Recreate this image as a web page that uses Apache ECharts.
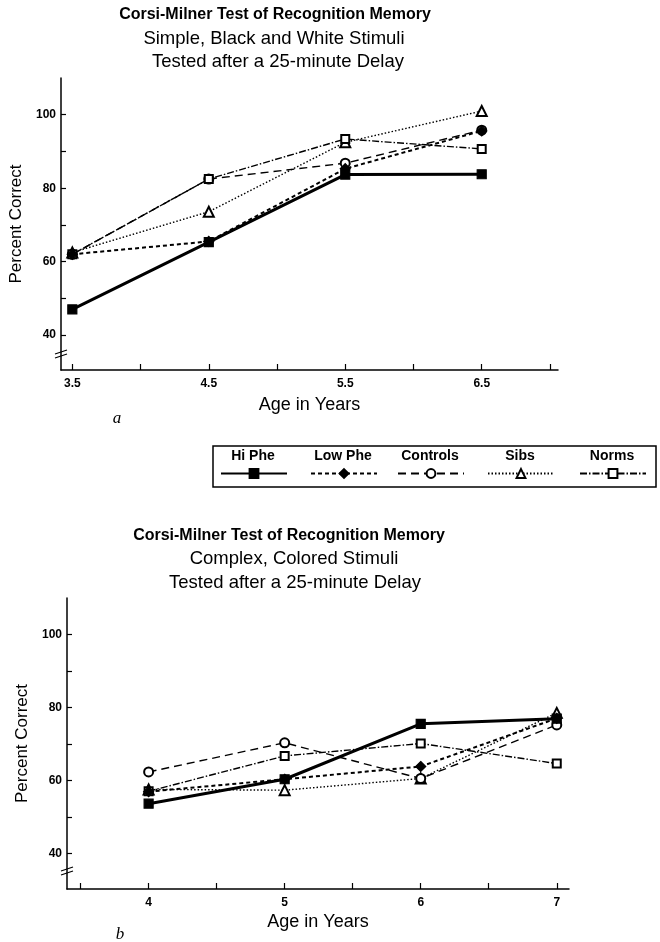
<!DOCTYPE html>
<html><head><meta charset="utf-8">
<script src="https://cdn.jsdelivr.net/npm/echarts@6/dist/echarts.min.js"></script>
<style>html,body{margin:0;padding:0;background:#fff}#c{width:660px;height:942px}</style>
</head><body><div id="c"></div>
<script>
// ---- data ----
const seriesNames = ['Hi Phe', 'Low Phe', 'Controls', 'Sibs', 'Norms'];

const agesA = [3.5, 4.5, 5.5, 6.5];
const hiPheA = [47, 65.3, 83.7, 83.8];
const lowPheA = [62, 65.5, 85.3, 95.6];
const controlsA = [62, 82.5, 86.8, 95.8];
const sibsA = [62.5, 73.6, 92.5, 101];
const normsA = [62, 82.5, 93.4, 90.7];

const agesB = [4, 5, 6, 7];
const hiPheB = [53.6, 60.3, 75.5, 76.9];
const lowPheB = [56.9, 60.3, 63.8, 77];
const controlsB = [62.3, 70.3, 60.5, 75.2];
const sibsB = [57.5, 57.3, 60.5, 78.5];
const normsB = [57, 66.7, 70.1, 64.6];

const xTicksA = [3.5, 4, 4.5, 5, 5.5, 6, 6.5, 7];
const xLabelsA = [3.5, 4.5, 5.5, 6.5];
const xTicksB = [3.5, 4, 4.5, 5, 5.5, 6, 6.5, 7];
const xLabelsB = [4, 5, 6, 7];
const yTicks = [40, 50, 60, 70, 80, 90, 100];
const yLabels = [40, 60, 80, 100];

const titleMain = 'Corsi-Milner Test of Recognition Memory';
const subA = ['Simple, Black and White Stimuli', 'Tested after a 25-minute Delay'];
const subB = ['Complex, Colored Stimuli', 'Tested after a 25-minute Delay'];

// ---- styling ----
const FONT = '"Liberation Sans", Arial, Helvetica, sans-serif';
const styles = [
  { symbol: 'rect', symbolSize: 9, z: 10, lineStyle: { width: 3, type: 'solid' } },
  { symbol: 'diamond', symbolSize: 10, z: 8, lineStyle: { width: 2, type: [4, 3] } },
  { symbol: 'emptyCircle', symbolSize: 9, z: 6, lineStyle: { width: 1.4, type: [8, 5] } },
  { symbol: 'emptyTriangle', symbolSize: 10, z: 5, lineStyle: { width: 1.4, type: [1.5, 2] } },
  { symbol: 'emptyRect', symbolSize: 8, z: 7, lineStyle: { width: 1.4, type: [7, 2, 1.5, 2] } }
];

const dataA = [hiPheA, lowPheA, controlsA, sibsA, normsA];
const dataB = [hiPheB, lowPheB, controlsB, sibsB, normsB];

function mkSeries(vals, ages, idx) {
  return vals.map((arr, i) => ({
    type: 'line',
    name: seriesNames[i],
    xAxisIndex: idx, yAxisIndex: idx,
    data: arr.map((v, j) => [ages[j], v]),
    symbol: styles[i].symbol,
    symbolSize: styles[i].symbolSize,
    z: styles[i].z,
    lineStyle: Object.assign({ color: '#000' }, styles[i].lineStyle),
    itemStyle: { color: '#000', borderColor: '#000', borderWidth: 1.2 },
    emphasis: { disabled: true },
    animation: false
  }));
}

function xAxis(idx, min, max, ticks, labels, gap) {
  return {
    type: 'value', gridIndex: idx, min: min, max: max,
    name: 'Age in Years', nameLocation: 'middle', nameGap: gap,
    nameTextStyle: { fontFamily: FONT, fontSize: 18, color: '#000' },
    axisLine: { lineStyle: { color: '#000', width: 1.5 } },
    axisTick: { inside: true, length: 6, customValues: ticks, lineStyle: { color: '#000', width: 1.2 } },
    axisLabel: { customValues: labels, margin: 8, fontFamily: FONT, fontSize: 12, fontWeight: 'bold', color: '#000' },
    splitLine: { show: false }
  };
}
function yAxis(idx, min, max) {
  return {
    type: 'value', gridIndex: idx, min: min, max: max,
    name: 'Percent Correct', nameLocation: 'middle', nameGap: 36,
    nameTextStyle: { fontFamily: FONT, fontSize: 17, color: '#000' },
    axisLine: { onZero: false, lineStyle: { color: '#000', width: 1.5 } },
    axisTick: { inside: true, length: 5, customValues: yTicks, lineStyle: { color: '#000', width: 1.2 } },
    axisLabel: { customValues: yLabels, margin: 5, fontFamily: FONT, fontSize: 12, fontWeight: 'bold', color: '#000' },
    splitLine: { show: false }
  };
}

const legCx = [253, 343, 430, 520, 612];
const legends = seriesNames.map((n, i) => ({
  data: [n], left: legCx[i] - 33, top: 468, itemWidth: 66, itemHeight: 11,
  padding: 0, formatter: () => '', selectedMode: false,
  textStyle: { fontSize: 1 }
}));

function breakMark(x, y) {
  return [
    { type: 'line', shape: { x1: x - 6, y1: y + 1, x2: x + 6, y2: y - 3 }, style: { stroke: '#000', lineWidth: 1.3 } },
    { type: 'line', shape: { x1: x - 6, y1: y + 5, x2: x + 6, y2: y + 1 }, style: { stroke: '#000', lineWidth: 1.3 } }
  ];
}

const graphics = [
  { type: 'rect', shape: { x: 213, y: 446, width: 443, height: 41 }, style: { fill: 'none', stroke: '#000', lineWidth: 1.5 } },
  ...seriesNames.map((n, i) => ({ type: 'text', x: legCx[i], y: 456, style: { text: n, x: 0, y: 0, align: 'center', verticalAlign: 'middle', font: 'bold 14px ' + FONT, fill: '#000' } })),
  { type: 'text', x: 117, y: 419, style: { text: 'a', align: 'center', verticalAlign: 'middle', font: 'italic 17px "Liberation Serif", "Times New Roman", serif', fill: '#000' } },
  { type: 'text', x: 120, y: 935, style: { text: 'b', align: 'center', verticalAlign: 'middle', font: 'italic 17px "Liberation Serif", "Times New Roman", serif', fill: '#000' } },
  ...breakMark(61, 353),
  ...breakMark(67, 870)
];

function t(text, cx, top, bold) {
  return { text: text, left: cx, top: top, textAlign: 'center', padding: 0,
    textStyle: { fontFamily: FONT, fontSize: bold ? 16 : 18.5, fontWeight: bold ? 'bold' : 'normal', color: '#000' } };
}

const option = {
  backgroundColor: '#fff',
  animation: false,
  title: [
    t(titleMain, 275, 7, true),
    t(subA[0], 274, 29, false),
    t(subA[1], 278, 52, false),
    t(titleMain, 289, 528, true),
    t(subB[0], 294, 549, false),
    t(subB[1], 295, 573, false)
  ],
  legend: legends,
  grid: [
    { left: 61, top: 78, width: 497, height: 292 },
    { left: 67, top: 598, width: 502, height: 291 }
  ],
  xAxis: [xAxis(0, 3.417, 7.059, xTicksA, xLabelsA, 26), xAxis(1, 3.40, 7.09, xTicksB, xLabelsB, 24)],
  yAxis: [yAxis(0, 30.5, 110), yAxis(1, 30.2, 110)],
  series: [...mkSeries(dataA, agesA, 0), ...mkSeries(dataB, agesB, 1)],
  graphic: graphics
};

const chart = echarts.init(document.getElementById('c'), null, { renderer: 'canvas' });
chart.setOption(option);
</script>
</body></html>
